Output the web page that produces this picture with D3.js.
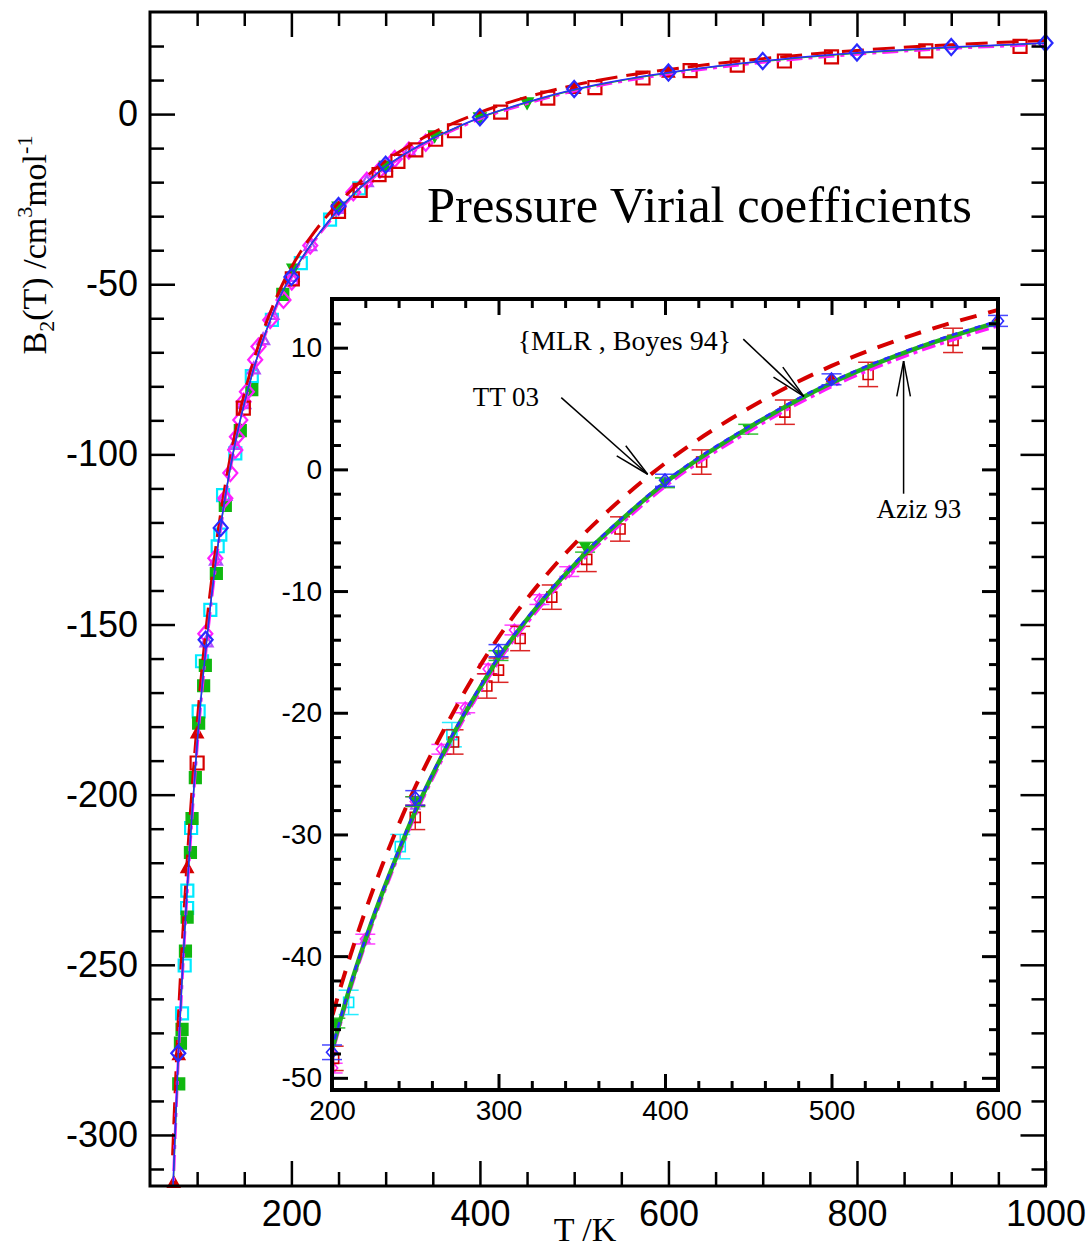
<!DOCTYPE html>
<html>
<head>
<meta charset="utf-8">
<script src="https://cdn.jsdelivr.net/npm/d3@7/dist/d3.min.js"></script>
<style>
  body { margin: 0; background: #fff; }
</style>
</head>
<body>
<div id="wrapper"></div>
<script>
// model curves, B2 in cm3/mol against T in K
const tModel   = [74, 80, 85, 90, 95, 100, 110, 120, 130, 140, 150, 160, 170, 180, 190, 200, 210, 220, 230, 240, 250, 260, 270, 280, 290, 300, 325, 350, 375, 400, 450, 500, 550, 600, 700, 800, 900, 1000];
const bAziz93  = [-318, -276, -249, -225, -204, -185, -155, -131, -112, -97, -85, -74.8, -66.2, -58.8, -52.4, -47.6, -42.8, -38.6, -34.8, -31.3, -28.0, -25.1, -22.4, -19.9, -17.6, -15.4, -10.9, -7.1, -3.9, -1.0, 3.5, 7.2, 10.0, 12.2, 15.6, 18.0, 19.7, 20.9];
const bMLR     = [-319, -277, -249, -225, -204, -185, -155, -131, -112.2, -97.1, -85.1, -74.9, -66.3, -58.9, -52.5, -47.7, -42.9, -38.7, -34.9, -31.4, -28.1, -25.2, -22.5, -20.0, -17.7, -15.5, -11.0, -7.2, -4.0, -1.1, 3.4, 7.1, 9.9, 12.1, 15.5, 17.9, 19.6, 20.8];
const bBoyes94 = [-320, -278, -250, -226, -205, -186, -156, -132, -112.6, -97.5, -85.5, -75.2, -66.6, -59.2, -52.8, -48.0, -43.2, -39.0, -35.2, -31.7, -28.4, -25.5, -22.8, -20.3, -18.0, -15.8, -11.3, -7.5, -4.3, -1.4, 3.1, 6.8, 9.6, 11.8, 15.2, 17.6, 19.3, 20.5];
const bTT03    = [-306, -266, -240, -217, -197, -179, -150, -127, -108.8, -94.2, -82.4, -72.4, -63.9, -56.6, -50.3, -45.0, -40.4, -36.3, -32.6, -29.2, -26.1, -23.3, -20.7, -18.2, -15.9, -13.8, -9.3, -5.5, -2.3, 0.5, 5.0, 8.5, 11.1, 13.1, 16.3, 18.7, 20.4, 21.6];

// experimental / computed points
const redSqT   = [100, 149, 201, 250, 273, 293, 300, 313, 332, 353, 373, 422, 472, 522, 573, 623, 673, 723, 773, 873, 973];
const redSqB   = [-190.7, -86.4, -48.4, -28.6, -22.4, -17.8, -16.5, -13.9, -10.5, -7.4, -4.9, 0.6, 4.7, 7.8, 10.6, 12.8, 14.4, 15.6, 16.8, 18.6, 19.9];
const redSqErr = [2, 1.5, 1.0, 1.0, 1.0, 1.0, 1.0, 1.0, 1.0, 1.0, 1.0, 1.0, 1.0, 1.0, 1.0, 1.0, 1.0, 1.0, 1.0, 1.0, 1.0];

const blueDiaT   = [80, 109, 125, 200, 250, 300, 400, 500, 600, 700, 800, 900, 1000];
const blueDiaB   = [-276, -154.5, -121.6, -47.9, -27.0, -14.9, -0.9, 7.4, 12.2, 15.6, 18.1, 19.7, 20.9];
const blueDiaErr = [1, 1, 1, 0.6, 0.6, 0.5, 0.5, 0.45, 0.45, 0.4, 0.4, 0.4, 0.4];

const greenSqT = [80.5, 82.3, 84, 87.6, 89.4, 92.9, 94.6, 98.1, 101.6, 106.9, 108.7, 120.4, 129.9, 145.8, 158, 190.9];
const greenSqB = [-285, -273, -269, -246, -236, -217, -207, -195, -179, -168, -162, -135, -115, -93, -81, -53];

const greenTriT   = [202, 250, 300, 352, 400, 450];
const greenTriB   = [-45.5, -27.3, -15.3, -6.4, -1.1, 3.3];
const greenTriErr = [0.4, 0.4, 0.4, 0.4, 0.4, 0.4];

const cyanSqT   = [84, 86.8, 89.4, 89.6, 93.6, 101.6, 105.2, 114, 121.8, 124.6, 127.5, 140.5, 158, 179.3, 210, 241, 272];
const cyanSqB   = [-264.3, -250.2, -233.3, -228.2, -209.8, -175.5, -160.8, -145.7, -127, -123.6, -112, -99.7, -77, -60.5, -43.8, -31.0, -21.8];
const cyanSqErr = [1, 1, 1, 1, 1, 1, 1, 1, 1, 1, 1, 1, 1, 1, 1.0, 1.0, 1.0];

const magDiaT   = [108.7, 119.3, 129.9, 135.2, 140.5, 142.2, 145.8, 149.3, 152.8, 161.6, 165.1, 177.5, 191.6, 200.4, 220, 250, 265.7, 280, 293.8, 309.6, 324.6, 342.5];
const magDiaB   = [-152.7, -130.5, -112.9, -105.5, -98.7, -94.8, -89.9, -84.5, -81.6, -72.2, -68.3, -60.5, -54.6, -49.2, -38.6, -27.3, -23.0, -19.6, -16.4, -13.2, -10.7, -8.4];
const magDiaErr = [0.4, 0.4, 0.4, 0.4, 0.4, 0.4, 0.4, 0.4, 0.4, 0.4, 0.4, 0.4, 0.4, 0.4, 0.4, 0.4, 0.4, 0.4, 0.4, 0.4, 0.4, 0.4];

const violetTriT = [110, 120, 130, 140, 150, 160, 170, 180, 200, 220, 250, 280, 300, 325];
const violetTriB = [-155, -131, -112, -97, -85, -74.8, -66.2, -58.8, -47.6, -38.6, -27.6, -19.8, -15.3, -10.8];

const redTriT = [75.2, 80.5, 89.4, 100, 500, 600];
const redTriB = [-314, -276.4, -221.5, -181.9, 7.5, 12.3];

// tick labels
const mainXTicks  = [200, 400, 600, 800, 1000];
const mainYTicks  = [-300, -250, -200, -150, -100, -50, 0];
const insetXTicks = [200, 300, 400, 500, 600];
const insetYTicks = [-50, -40, -30, -20, -10, 0, 10];

const zip = (T, B, E) => T.map((t, i) => ({ t, b: B[i], e: E ? E[i] : 0 }));

const curves = [
  { name: "TT03",    pts: zip(tModel, bTT03),    color: "#d60000", main: { w: 3,   dash: "22,9" },       inset: { w: 4,   dash: "17,12" } },
  { name: "Boyes94", pts: zip(tModel, bBoyes94), color: "#ff1aff", main: { w: 3,   dash: "16,6,4,6" },   inset: { w: 3.5, dash: "14,5,4,5" } },
  { name: "MLR",     pts: zip(tModel, bMLR),     color: "#1fb01f", main: { w: 1.5, dash: null },         inset: { w: 4.5, dash: null } },
  { name: "Aziz93",  pts: zip(tModel, bAziz93),  color: "#2a2aff", main: { w: 1.5, dash: null },         inset: { w: 2.5, dash: "6,6" } },
];

const markers = [
  { pts: zip(cyanSqT, cyanSqB, cyanSqErr),    shape: "square",  color: "#00eaff", filled: false, size: 12, isize: 10 },
  { pts: zip(greenSqT, greenSqB),             shape: "square",  color: "#10b810", filled: true,  size: 11, isize: 8 },
  { pts: zip(violetTriT, violetTriB),         shape: "triUp",   color: "#b050ff", filled: false, size: 12, isize: 9 },
  { pts: zip(magDiaT, magDiaB, magDiaErr),    shape: "diamond", color: "#ff20ff", filled: false, size: 14, isize: 10 },
  { pts: zip(redSqT, redSqB, redSqErr),       shape: "square",  color: "#d60000", filled: false, size: 13, isize: 10 },
  { pts: zip(greenTriT, greenTriB, greenTriErr), shape: "triDown", color: "#10b810", filled: true, size: 11, isize: 9 },
  { pts: zip(redTriT, redTriB),               shape: "triUp",   color: "#d60000", filled: true,  size: 11, isize: 9 },
  { pts: zip(blueDiaT, blueDiaB, blueDiaErr), shape: "diamond", color: "#2a2aff", filled: false, size: 14, isize: 11 },
];

function markerPath(shape, s) {
  const h = s / 2;
  if (shape === "square")  return `M${-h},${-h}H${h}V${h}H${-h}Z`;
  if (shape === "diamond") return `M0,${-h * 1.15}L${h},0L0,${h * 1.15}L${-h},0Z`;
  if (shape === "triUp")   return `M0,${-h}L${h},${h * 0.8}L${-h},${h * 0.8}Z`;
  return `M0,${h}L${h},${-h * 0.8}L${-h},${-h * 0.8}Z`;
}

const svg = d3.select("#wrapper").append("svg")
    .attr("width", 1088)
    .attr("height", 1251)
    .style("font-family", "'Liberation Sans', Arial, sans-serif");

// draws frame + inward ticks on the four sides
function drawAxes(g, x, y, o) {
  const [x0, x1] = x.range(), [y0, y1] = y.range();
  const fmt = d => String(d);
  const xMinor = o.xMinor.filter(v => !o.xMajor.includes(v));
  const yMinor = o.yMinor.filter(v => !o.yMajor.includes(v));

  const parts = [
    [d3.axisBottom(x).tickValues(o.xMajor).tickSize(-o.major).tickPadding(o.xPad).tickFormat(fmt), `translate(0,${y0})`, true],
    [d3.axisBottom(x).tickValues(xMinor).tickSize(-o.minor).tickFormat(""), `translate(0,${y0})`],
    [d3.axisTop(x).tickValues(o.xMajor).tickSize(-o.major).tickFormat(""), `translate(0,${y1})`],
    [d3.axisTop(x).tickValues(xMinor).tickSize(-o.minor).tickFormat(""), `translate(0,${y1})`],
    [d3.axisLeft(y).tickValues(o.yMajor).tickSize(-o.major).tickPadding(o.yPad).tickFormat(fmt), `translate(${x0},0)`, true],
    [d3.axisLeft(y).tickValues(yMinor).tickSize(-o.minor).tickFormat(""), `translate(${x0},0)`],
    [d3.axisRight(y).tickValues(o.yMajor).tickSize(-o.major).tickFormat(""), `translate(${x1},0)`],
    [d3.axisRight(y).tickValues(yMinor).tickSize(-o.minor).tickFormat(""), `translate(${x1},0)`],
  ];
  parts.forEach(([ax, tr, labelled]) => {
    const a = g.append("g").attr("transform", tr).call(ax);
    a.select(".domain").remove();
    a.selectAll(".tick line").attr("stroke", "#000").attr("stroke-width", o.tickW);
    if (labelled) a.selectAll(".tick text").attr("fill", "#000").style("font-size", o.font + "px").style("font-family", "'Liberation Sans', Arial, sans-serif");
  });
  g.append("rect")
      .attr("x", x0).attr("y", y1)
      .attr("width", x1 - x0).attr("height", y0 - y1)
      .attr("fill", "none").attr("stroke", "#000").attr("stroke-width", o.frameW);
}

function drawCurves(g, x, y, key) {
  const line = d3.line().curve(d3.curveMonotoneX).x(d => x(d.t)).y(d => y(d.b));
  curves.forEach(c => {
    g.append("path")
        .attr("d", line(c.pts))
        .attr("fill", "none")
        .attr("stroke", c.color)
        .attr("stroke-width", c[key].w)
        .attr("stroke-dasharray", c[key].dash);
  });
}

function drawMarkers(g, x, y, list, inset) {
  list.forEach(m => {
    const [tmin, tmax] = x.domain();
    const pts = m.pts.filter(p => p.t >= tmin - 2 && p.t <= tmax + 2);
    const s = inset ? m.isize : m.size;
    if (inset) {
      const eb = g.append("g").attr("stroke", m.color).attr("stroke-width", 1.5).attr("opacity", 0.85);
      pts.filter(p => p.e > 0).forEach(p => {
        const cx = x(p.t), ya = y(p.b - p.e), yb = y(p.b + p.e);
        eb.append("line").attr("x1", cx).attr("x2", cx).attr("y1", ya).attr("y2", yb);
        eb.append("line").attr("x1", cx - 10).attr("x2", cx + 10).attr("y1", ya).attr("y2", ya);
        eb.append("line").attr("x1", cx - 10).attr("x2", cx + 10).attr("y1", yb).attr("y2", yb);
      });
    }
    g.selectAll(null)
      .data(pts)
      .join("path")
        .attr("transform", d => `translate(${x(d.t)},${y(d.b)})`)
        .attr("d", markerPath(m.shape, s))
        .attr("fill", m.filled ? m.color : "none")
        .attr("stroke", m.color)
        .attr("stroke-width", inset ? 1.6 : 2.2);
  });
}

// ---------- main plot ----------
const x = d3.scaleLinear().domain([50, 1000]).range([150, 1045.5]);
const y = d3.scaleLinear().domain([-315, 30]).range([1186, 12]);

svg.append("clipPath").attr("id", "clipMain")
  .append("rect").attr("x", 150).attr("y", 12).attr("width", 895.5).attr("height", 1174);

const mainG = svg.append("g");
drawMarkers(mainG, x, y, markers.slice(0, 7), false);
drawCurves(mainG.append("g").attr("clip-path", "url(#clipMain)"), x, y, "main");
drawMarkers(mainG, x, y, markers.slice(7), false);

drawAxes(svg.append("g"), x, y, {
  xMajor: mainXTicks, xMinor: d3.range(100, 1000, 50),
  yMajor: mainYTicks, yMinor: d3.range(-310, 30, 10),
  major: 25, minor: 14, tickW: 2.5, frameW: 3, font: 36, xPad: 14, yPad: 12
});

svg.append("text")
    .attr("x", 427).attr("y", 222)
    .style("font-family", "'Liberation Serif', 'Times New Roman', serif")
    .style("font-size", "50.5px")
    .text("Pressure Virial coefficients");

svg.append("text")
    .attr("x", 585).attr("y", 1241)
    .attr("text-anchor", "middle")
    .style("font-family", "'Liberation Serif', 'Times New Roman', serif")
    .style("font-size", "34px")
    .text("T /K");

const yl = svg.append("text")
    .attr("transform", "translate(46,245) rotate(-90)")
    .attr("text-anchor", "middle")
    .style("font-family", "'Liberation Serif', 'Times New Roman', serif")
    .style("font-size", "34px");
yl.append("tspan").text("B");
yl.append("tspan").attr("dy", 8).style("font-size", "22px").text("2");
yl.append("tspan").attr("dy", -8).text("(T) /cm");
yl.append("tspan").attr("dy", -14).style("font-size", "22px").text("3");
yl.append("tspan").attr("dy", 14).text("mol");
yl.append("tspan").attr("dy", -14).style("font-size", "22px").text("-1");

// ---------- inset ----------
const xi = d3.scaleLinear().domain([200, 600]).range([332, 998]);
const yi = d3.scaleLinear().domain([-51, 14]).range([1090, 299]);

svg.append("rect").attr("x", 332).attr("y", 299).attr("width", 666).attr("height", 791).attr("fill", "#fff");
svg.append("clipPath").attr("id", "clipInset")
  .append("rect").attr("x", 332).attr("y", 299).attr("width", 666).attr("height", 791);

const insetG = svg.append("g");
drawMarkers(insetG.append("g").attr("clip-path", "url(#clipInset)"), xi, yi, markers.slice(0, 7), true);
drawCurves(insetG.append("g").attr("clip-path", "url(#clipInset)"), xi, yi, "inset");
drawMarkers(insetG, xi, yi, markers.slice(7), true);

drawAxes(svg.append("g"), xi, yi, {
  xMajor: insetXTicks, xMinor: d3.range(200, 600, 20),
  yMajor: insetYTicks, yMinor: d3.range(-50, 14, 2),
  major: 16, minor: 9, tickW: 3, frameW: 4, font: 28, xPad: 10, yPad: 10
});

// annotations (positions in inset data units)
const notes = [
  { text: "{MLR , Boyes 94}", at: [311.5, 9.8], size: 28, from: [447, 10.7], to: [483.4, 6.0] },
  { text: "TT 03",            at: [284.5, 5.2], size: 27, from: [337.7, 5.9], to: [389.6, -0.4] },
  { text: "Aziz 93",          at: [527, -4.0], size: 27, from: [543.3, -2.0], to: [543.3, 8.9] },
];
notes.forEach(n => {
  svg.append("text")
      .attr("x", xi(n.at[0])).attr("y", yi(n.at[1]))
      .style("font-family", "'Liberation Serif', 'Times New Roman', serif")
      .style("font-size", n.size + "px")
      .text(n.text);
  const x1 = xi(n.from[0]), y1 = yi(n.from[1]), x2 = xi(n.to[0]), y2 = yi(n.to[1]);
  const ang = Math.atan2(y1 - y2, x1 - x2);
  const a = svg.append("g").attr("stroke", "#000").attr("stroke-width", 1.5);
  a.append("line").attr("x1", x1).attr("y1", y1).attr("x2", x2).attr("y2", y2);
  [-0.19, 0.19].forEach(da => {
    a.append("line")
        .attr("x1", x2).attr("y1", y2)
        .attr("x2", x2 + 36 * Math.cos(ang + da))
        .attr("y2", y2 + 36 * Math.sin(ang + da));
  });
});
</script>
</body>
</html>
